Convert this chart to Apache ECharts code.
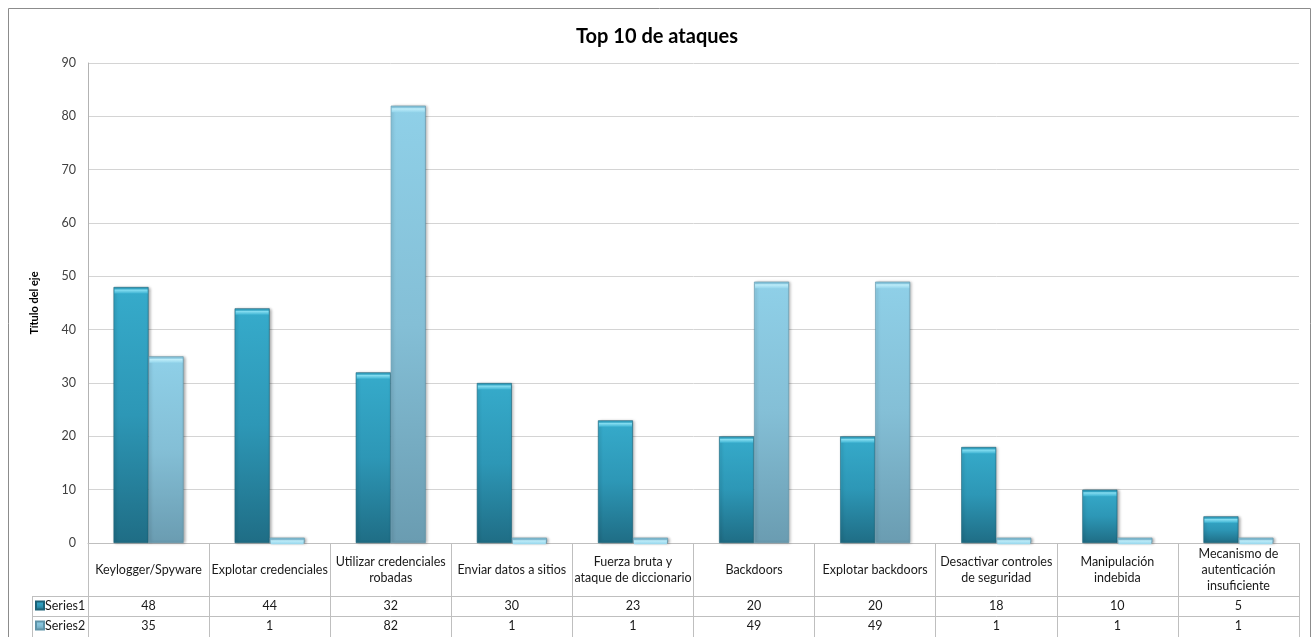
<!DOCTYPE html>
<html>
<head>
<meta charset="utf-8">
<script src="https://cdn.jsdelivr.net/npm/echarts@6/dist/echarts.min.js"></script>
<style>
  html, body { margin: 0; padding: 0; background: #fff; }
  #chart { width: 1314px; height: 637px; }
</style>
</head>
<body>
<div id="chart"></div>
<script>
// Attack categories (line breaks follow the table cells)
const categories = [
  'Keylogger/Spyware',
  'Explotar credenciales',
  'Utilizar credenciales\nrobadas',
  'Enviar datos a sitios',
  'Fuerza bruta y\nataque de diccionario',
  'Backdoors',
  'Explotar backdoors',
  'Desactivar controles\nde seguridad',
  'Manipulación\nindebida',
  'Mecanismo de\nautenticación\ninsuficiente'
];
const series1 = [48, 44, 32, 30, 23, 20, 20, 18, 10, 5];
const series2 = [35, 1, 82, 1, 1, 49, 49, 1, 1, 1];
const yTicks = { min: 0, max: 90, interval: 10 };

const FONT = 'Lato, "Open Sans", sans-serif';
const GRID = { left: 88, top: 63, right: 15, bottom: 94 };
const W = 1314, H = 637;
const tableTop = H - GRID.bottom;       // bottom of plot = top of data table
const catRowH = 53, valRowH = 20;
const lineColor = '#bfbfbf';
const BAR_W = 35;
const TXT = 12.5;

const color1 = new echarts.graphic.LinearGradient(0, 0, 0, 1, [
  { offset: 0, color: '#36abcb' },
  { offset: 0.5, color: '#2d97b6' },
  { offset: 1, color: '#1f6d85' }
]);
const color2 = new echarts.graphic.LinearGradient(0, 0, 0, 1, [
  { offset: 0, color: '#8fd0e8' },
  { offset: 0.5, color: '#84bfd6' },
  { offset: 1, color: '#6a9cb1' }
]);
const bevel1 = new echarts.graphic.LinearGradient(0, 0, 0, 1, [
  { offset: 0, color: '#8fe3f5' },
  { offset: 1, color: '#3fb4d3' }
]);
const bevel2 = new echarts.graphic.LinearGradient(0, 0, 0, 1, [
  { offset: 0, color: '#c4f0fb' },
  { offset: 1, color: '#95d6ec' }
]);

const tableLeft = 32;
const chart = echarts.init(document.getElementById('chart'), null, { renderer: 'canvas' });

// one legend key per value row of the data table
function rowLegend(name, row) {
  return {
    data: [name],
    orient: 'vertical',
    left: 35,
    top: tableTop + catRowH + valRowH * row + 3,
    padding: 0,
    itemWidth: 8,
    itemHeight: 8,
    itemGap: 0,
    icon: 'rect',
    selectedMode: false,
    textStyle: { fontFamily: FONT, fontSize: TXT, color: '#1a1a1a', padding: [0, 0, 0, -4] }
  };
}

const valueAxisLabel = {
  interval: 0, margin: valRowH / 2, verticalAlign: 'middle',
  fontSize: TXT, color: '#1a1a1a', fontFamily: FONT
};

const option = {
  animation: false,
  textStyle: { fontFamily: FONT },
  title: {
    text: 'Top 10 de ataques',
    left: 'center',
    top: 22,
    textStyle: { fontFamily: FONT, fontSize: 20, fontWeight: 'bold', color: '#000' }
  },
  legend: [rowLegend('Series1', 0), rowLegend('Series2', 1)],
  grid: { left: GRID.left, top: GRID.top, right: GRID.right, bottom: GRID.bottom },
  xAxis: [
    {
      type: 'category',
      data: categories,
      position: 'bottom',
      axisLine: { show: true, lineStyle: { color: lineColor } },
      axisTick: { show: true, interval: 0, length: catRowH + valRowH * 2 + 2, lineStyle: { color: lineColor } },
      axisLabel: {
        interval: 0,
        margin: catRowH / 2,
        verticalAlign: 'middle',
        lineHeight: 16,
        fontSize: TXT,
        color: '#1a1a1a',
        fontFamily: FONT
      }
    },
    {
      type: 'category',
      data: series1.map(String),
      position: 'bottom',
      offset: catRowH,
      axisLine: { show: true, lineStyle: { color: lineColor } },
      axisTick: { show: false },
      axisLabel: valueAxisLabel
    },
    {
      type: 'category',
      data: series2.map(String),
      position: 'bottom',
      offset: catRowH + valRowH,
      axisLine: { show: true, lineStyle: { color: lineColor } },
      axisTick: { show: false },
      axisLabel: valueAxisLabel
    }
  ],
  yAxis: {
    type: 'value',
    min: yTicks.min,
    max: yTicks.max,
    interval: yTicks.interval,
    name: 'Título del eje',
    nameLocation: 'middle',
    nameGap: 48,
    nameRotate: 90,
    nameTextStyle: { fontFamily: FONT, fontSize: 11, fontWeight: 'bold', color: '#000' },
    axisLine: { show: true, lineStyle: { color: '#b3b3b3' } },
    axisTick: { show: false },
    axisLabel: { margin: 12, fontSize: TXT, color: '#404040', fontFamily: FONT },
    splitLine: { show: true, lineStyle: { color: '#d4d4d4' } }
  },
  series: [
    {
      name: 'Series1',
      type: 'bar',
      data: series1,
      barWidth: BAR_W,
      barGap: '0%',
      itemStyle: {
        color: color1,
        borderColor: '#1b6177',
        borderWidth: 0.6,
        shadowColor: 'rgba(0,0,0,0.35)',
        shadowBlur: 3,
        shadowOffsetX: 1.5,
        shadowOffsetY: 0.5
      }
    },
    {
      name: 'Series2',
      type: 'bar',
      data: series2,
      barWidth: BAR_W,
      barGap: '0%',
      itemStyle: {
        color: color2,
        borderColor: '#5f93a8',
        borderWidth: 0.6,
        shadowColor: 'rgba(0,0,0,0.35)',
        shadowBlur: 3,
        shadowOffsetX: 1.5,
        shadowOffsetY: 0.5
      }
    },
    {
      // bevelled top edge of Series1 bars
      type: 'pictorialBar',
      data: series1,
      symbol: 'rect',
      symbolPosition: 'end',
      symbolSize: [BAR_W - 2, 4],
      symbolOffset: [-BAR_W / 2, 2.5],
      itemStyle: { color: bevel1 },
      silent: true,
      z: 3
    },
    {
      // bevelled top edge of Series2 bars
      type: 'pictorialBar',
      data: series2,
      symbol: 'rect',
      symbolPosition: 'end',
      symbolSize: [BAR_W - 2, 4],
      symbolOffset: [BAR_W / 2, 2.5],
      itemStyle: { color: bevel2 },
      silent: true,
      z: 3
    }
  ],
  graphic: [
    {
      // chart area frame
      type: 'rect',
      shape: { x: 8.5, y: 8.5, width: 1302, height: H },
      style: { fill: 'none', stroke: '#8c8c8c', lineWidth: 1 },
      silent: true
    },
    {
      // row header column of the data table
      type: 'group',
      silent: true,
      children: [
        { type: 'line', shape: { x1: tableLeft, y1: tableTop + catRowH + 0.5, x2: GRID.left, y2: tableTop + catRowH + 0.5 }, style: { stroke: lineColor, lineWidth: 1 } },
        { type: 'line', shape: { x1: tableLeft, y1: tableTop + catRowH + valRowH + 0.5, x2: GRID.left, y2: tableTop + catRowH + valRowH + 0.5 }, style: { stroke: lineColor, lineWidth: 1 } },
        { type: 'line', shape: { x1: tableLeft + 0.5, y1: tableTop + catRowH, x2: tableLeft + 0.5, y2: H }, style: { stroke: lineColor, lineWidth: 1 } }
      ]
    }
  ]
};

chart.setOption(option);
</script>
</body>
</html>
